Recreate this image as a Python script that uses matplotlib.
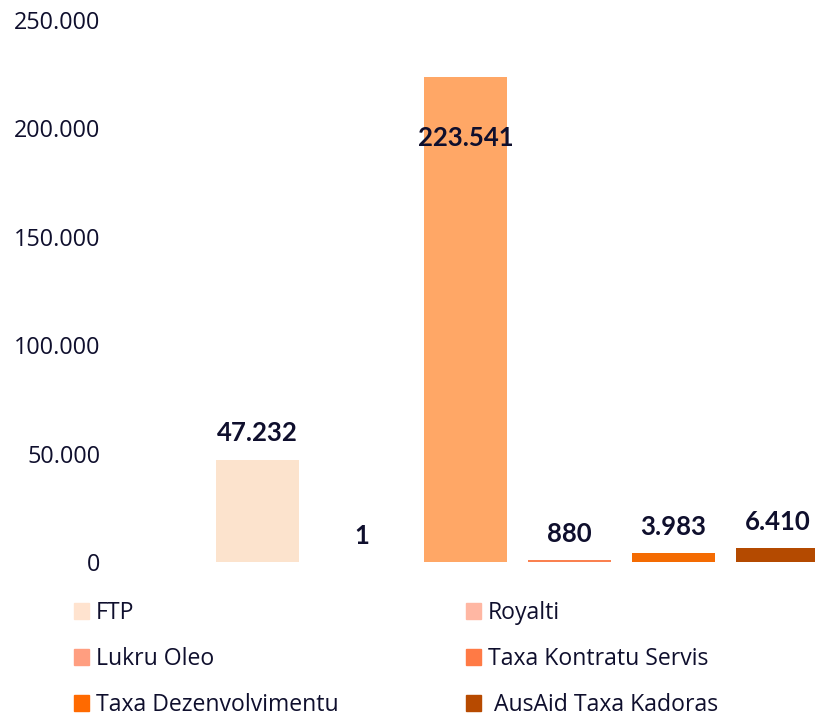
import matplotlib.pyplot as plt
from matplotlib.patches import Patch
from matplotlib.ticker import FuncFormatter

# data
categories = ['FTP', 'Royalti', 'Lukru Oleo', 'Taxa Kontratu Servis',
              'Taxa Dezenvolvimentu', ' AusAid Taxa Kadoras']
values = [47232, 1, 223541, 880, 3983, 6410]
value_labels = ['47.232', '1', '223.541', '880', '3.983', '6.410']
bar_colors = ['#FCE3CD', '#F9B4A0', '#FFA766', '#FA8150', '#F46B02', '#B44A00']
legend_colors = ['#FFE3CF', '#FFB7A3', '#FF9E80', '#FF7A45', '#FF6A00', '#B74A00']
yticks = [0, 50000, 100000, 150000, 200000, 250000]

text_color = '#0F0F2D'

fig = plt.figure(figsize=(8.15, 7.15), dpi=100)
ax = fig.add_axes([110 / 815, (715 - 562) / 715, 1 - 110 / 815, 542 / 715])

x = list(range(len(categories)))
ax.bar(x, values, width=0.8, color=bar_colors)

for i, (v, lab) in enumerate(zip(values, value_labels)):
    # the tallest bar has its label inside, the others above
    dy = -44 if v > 200000 else 19
    ax.annotate(lab, (i, v), xytext=(0, dy), textcoords='offset points',
                ha='center', va='center', fontsize=18.5, fontweight='bold',
                color=text_color, family='Lato')

ax.set_xlim((110 - 257.5) / 104, (815 - 257.5) / 104)
ax.set_ylim(0, 250000)
ax.set_yticks(yticks)
ax.yaxis.set_major_formatter(FuncFormatter(lambda v, p: f'{int(v):,}'.replace(',', '.')))
ax.tick_params(axis='y', length=0, pad=7, labelsize=16.8, labelcolor=text_color)
for t in ax.get_yticklabels():
    t.set_family('Open Sans')
ax.set_xticks([])
for s in ax.spines.values():
    s.set_visible(False)

handles = [Patch(color=c, label=l) for c, l in zip(legend_colors, categories)]
order = [0, 2, 4, 1, 3, 5]
fig.legend([handles[i] for i in order], [categories[i] for i in order],
           ncol=2, loc='upper left', bbox_to_anchor=(53 / 815, 1 - 580 / 715),
           frameon=False, handlelength=0.67, handleheight=0.67, handletextpad=0.3,
           columnspacing=5.5, labelspacing=0.96,
           prop={'family': 'Open Sans', 'size': 16.6}, labelcolor=text_color)

fig.savefig('out.png', dpi=100)
